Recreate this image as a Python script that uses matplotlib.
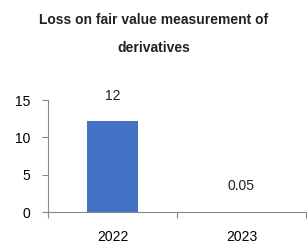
import matplotlib
matplotlib.use('Agg')
import matplotlib.pyplot as plt

# chart data
years = ['2022', '2023']
loss = [12.2, 0.05]
labels = ['12', '0.05']
yticks = [0, 5, 10, 15]

plt.rcParams['font.family'] = ['Liberation Sans', 'DejaVu Sans']

fig = plt.figure(figsize=(3.07, 2.43), dpi=100)
ax = fig.add_axes([48/307, 1 - 212/243, 258/307, 112/243])

x = range(len(years))
ax.bar(x, loss, width=0.4, color='#4472c4')

#value labels, as placed in the original
ax.text(0, 14.6, labels[0], ha='center', va='bottom', fontsize=10, color='#222222', clip_on=False)
ax.text(1, 2.5, labels[1], ha='center', va='bottom', fontsize=10, color='#222222')

ax.set_xlim(-0.5, 1.5)
ax.set_ylim(0, 15)
ax.set_yticks(yticks)
ax.set_xticks([-0.5, 0.5, 1.5], minor=False)
ax.set_xticklabels([])
ax.set_xticks(list(x), minor=True)
ax.set_xticklabels(years, minor=True, fontsize=10)
ax.tick_params(axis='x', which='minor', length=0, pad=13)
ax.tick_params(axis='x', which='major', length=4, color='#888888', direction='out')
ax.tick_params(axis='y', length=4, color='#888888', labelsize=10, pad=9)

for s in ['top', 'right']:
    ax.spines[s].set_visible(False)
for s in ['left', 'bottom']:
    ax.spines[s].set_color('#888888')
    ax.spines[s].set_linewidth(0.8)

fig.text(0.5, 1 - 20/243, 'Loss on fair value measurement of', ha='center', va='center',
         fontsize=10, fontweight='bold', color='#222222')
fig.text(0.5, 1 - 48/243, 'derivatives', ha='center', va='center',
         fontsize=10, fontweight='bold', color='#222222')

plt.savefig('out.png', dpi=100)
